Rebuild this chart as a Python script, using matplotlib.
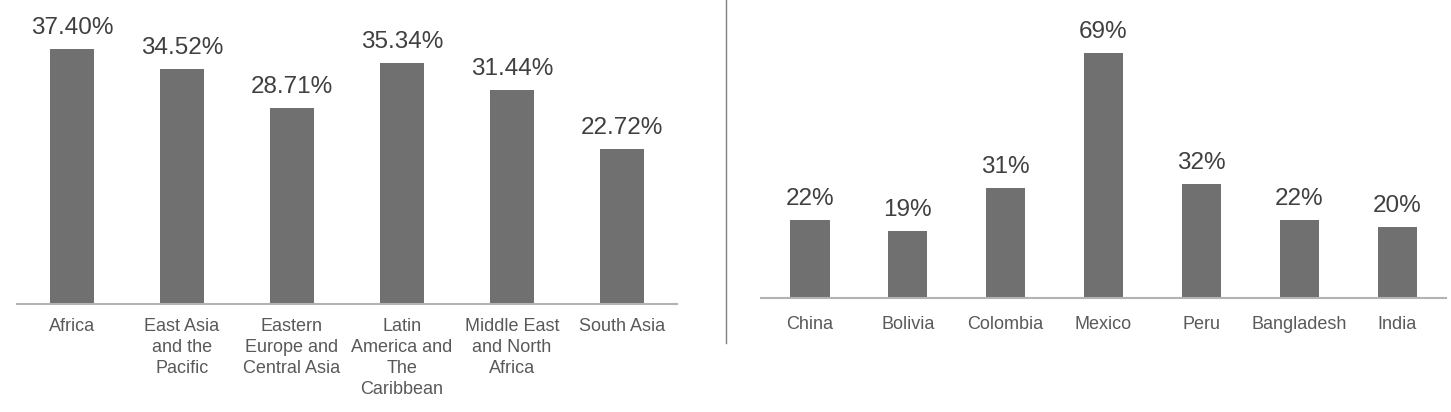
import matplotlib
matplotlib.use("Agg")
import matplotlib.pyplot as plt
from matplotlib.lines import Line2D

plt.rcParams['font.family'] = ['Liberation Sans', 'DejaVu Sans']

regions = ["Africa", "East Asia\nand the\nPacific", "Eastern\nEurope and\nCentral Asia",
           "Latin\nAmerica and\nThe\nCaribbean", "Middle East\nand North\nAfrica", "South Asia"]
region_values = [37.40, 34.52, 28.71, 35.34, 31.44, 22.72]
region_labels = ["37.40%", "34.52%", "28.71%", "35.34%", "31.44%", "22.72%"]

countries = ["China", "Bolivia", "Colombia", "Mexico", "Peru", "Bangladesh", "India"]
country_values = [22, 19, 31, 69, 32, 22, 20]
country_labels = ["22%", "19%", "31%", "69%", "32%", "22%", "20%"]

W, H = 1451, 412
fig = plt.figure(figsize=(W / 100, H / 100), dpi=100)

bar_color = "#707070"
axis_color = "#b3b3b3"
val_color = "#404040"
tick_color = "#595959"


def panel(rect, cats, vals, labels, ymax, pad):
    ax = fig.add_axes(rect)
    x = list(range(len(cats)))
    ax.bar(x, vals, width=0.4, color=bar_color, zorder=2)
    ax.set_xlim(-0.5, len(cats) - 0.5)
    ax.set_ylim(0, ymax)
    for s in ["top", "right", "left"]:
        ax.spines[s].set_visible(False)
    ax.spines["bottom"].set_color(axis_color)
    ax.spines["bottom"].set_linewidth(1.5)
    ax.set_yticks([])
    ax.set_xticks(x)
    ax.set_xticklabels(cats, fontsize=13, color=tick_color, linespacing=1.3)
    ax.tick_params(axis="x", length=0, pad=pad)
    for xi, v, lab in zip(x, vals, labels):
        ax.annotate(lab, (xi, v), xytext=(0, 10.8), textcoords="offset points",
                    ha="center", va="baseline", fontsize=17.5, color=val_color)
    ax.patch.set_alpha(0)
    return ax


# Left panel: axis from x=17 to 677 px, baseline at y=303.5 px
left_base = 303.5
left_scale = 6.805
panel([17 / W, (H - left_base) / H, 660 / W, left_base / H],
      regions, region_values, region_labels, left_base / left_scale, 10.5)

# Right panel: axis from x=761 to 1446 px, baseline at y=298 px
right_base = 298
right_scale = 3.551
panel([761 / W, (H - right_base) / H, 685 / W, right_base / H],
      countries, country_values, country_labels, right_base / right_scale, 13)

# Divider line
fig.add_artist(Line2D([725.5 / W, 725.5 / W], [1, (H - 343) / H],
                      transform=fig.transFigure, color="#808080", linewidth=1))

fig.savefig("out.png", dpi=100, facecolor="white")
